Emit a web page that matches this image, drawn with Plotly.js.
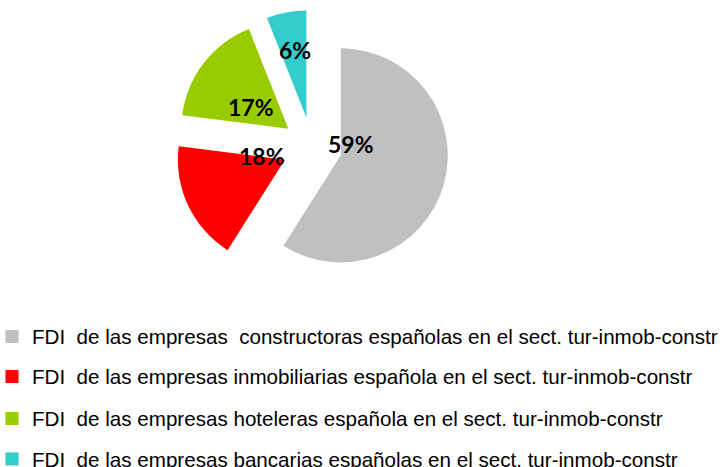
<!DOCTYPE html>
<html>
<head>
<meta charset="utf-8">
<script src="https://cdn.plot.ly/plotly-3.0.1.min.js"></script>
<style>html,body{margin:0;padding:0;background:#fff;}#chart{width:727px;height:467px;}</style>
</head>
<body>
<div id="chart"></div>
<script>
var labels = [
  "FDI  de las empresas  constructoras españolas en el sect. tur-inmob-constr",
  "FDI  de las empresas inmobiliarias española en el sect. tur-inmob-constr",
  "FDI  de las empresas hoteleras española en el sect. tur-inmob-constr",
  "FDI  de las empresas bancarias españolas en el sect. tur-inmob-constr"
];
var values = [59, 18, 17, 6];
var colors = ["#C0C0C0", "#FF0000", "#99CC00", "#33CCCC"];

// layout-only: pixel positions of the percentage labels and legend rows
var W = 727, H = 467;
var labelPx = [[351, 144], [262, 156], [251, 107], [295, 50]];
var legendRowPx = [336.5, 376.5, 418.5, 459];

var traces = [{
  type: "pie",
  labels: labels,
  values: values,
  sort: false,
  direction: "clockwise",
  rotation: 0,
  pull: values.map(function(){ return 0.28; }),
  marker: {colors: colors, line: {width: 0}},
  textinfo: "none",
  domain: {x: [175/W, 449/W], y: [1 - 284/H, 1 - 10/H]},
  showlegend: false,
  hoverinfo: "label+percent"
}];

var layout = {
  width: W, height: H,
  margin: {l: 0, r: 0, t: 0, b: 0, autoexpand: false},
  paper_bgcolor: "#fff", plot_bgcolor: "#fff",
  xaxis: {visible: false, domain: [0, 0.01]},
  yaxis: {visible: false, domain: [0, 0.01]},
  showlegend: true,
  annotations: []
};

labels.forEach(function(l, i){
  var key = i === 0 ? "legend" : "legend" + (i + 1);
  traces.push({
    type: "scatter", mode: "markers", x: [null], y: [null],
    name: l, legend: key,
    marker: {symbol: "square", size: 13, color: colors[i]},
    showlegend: true, hoverinfo: "skip"
  });
  layout[key] = {
    xref: "paper", yref: "paper",
    x: -8 / W, xanchor: "left",
    y: 1 - legendRowPx[i] / H, yanchor: "middle",
    orientation: "v", itemclick: false, itemdoubleclick: false,
    borderwidth: 0,
    font: {family: "Liberation Sans, Arial", size: 20.6, color: "#000"},
    bgcolor: "rgba(0,0,0,0)"
  };
  layout.annotations.push({
    xref: "paper", yref: "paper",
    x: labelPx[i][0] / W, y: 1 - labelPx[i][1] / H,
    xanchor: "center", yanchor: "middle",
    text: values[i] + "%", showarrow: false,
    font: {family: "Lato", size: 23, color: "#000", weight: "bold"}
  });
});

Plotly.newPlot("chart", traces, layout, {staticPlot: true});
</script>
</body>
</html>
